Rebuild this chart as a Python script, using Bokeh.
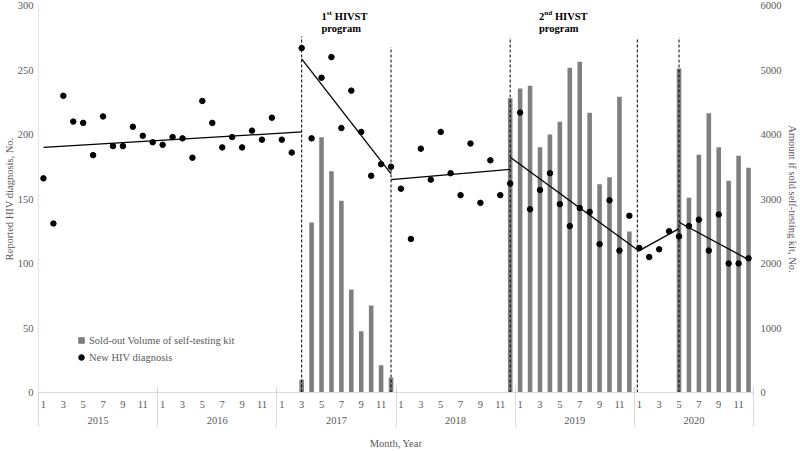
import math
from bokeh.plotting import figure
from bokeh.models import (Range1d, LinearAxis, FixedTicker, Legend, LegendItem, Label)
from bokeh.embed import file_html
from bokeh.resources import INLINE

# ---------------- data ----------------
years = ["2015", "2016", "2017", "2018", "2019", "2020"]
months = [str(m) for m in range(1, 13)]

# New HIV diagnosis per month (left axis), Jan 2015 .. Dec 2020
hiv_diagnoses = [
    166, 131, 230, 210, 209, 184, 214, 191, 191, 206, 199, 194,   # 2015
    192, 198, 197, 182, 226, 209, 190, 198, 190, 203, 196, 213,   # 2016
    196, 186, 267, 197, 244, 260, 205, 234, 202, 168, 177, 175,   # 2017
    158, 119, 189, 165, 202, 170, 153, 193, 147, 180, 153, 162,   # 2018
    217, 142, 157, 170, 146, 129, 143, 140, 115, 149, 110, 137,   # 2019
    112, 105, 111, 125, 121, 129, 134, 110, 138, 100, 100, 104,   # 2020
]

# Sold-out volume of self-testing kits per month (right axis)
kits_sold = [
    0, 0, 0, 0, 0, 0, 0, 0, 0, 0, 0, 0,                                   # 2015
    0, 0, 0, 0, 0, 0, 0, 0, 0, 0, 0, 0,                                   # 2016
    0, 0, 197, 2636, 3958, 3431, 2972, 1597, 951, 1349, 423, 232,         # 2017
    0, 0, 0, 0, 0, 0, 0, 0, 0, 0, 0, 4563,                                # 2018
    4713, 4755, 3803, 4000, 4196, 5033, 5126, 4336, 3230, 3338, 4584, 2496,  # 2019
    0, 0, 0, 0, 5023, 3018, 3685, 4331, 3803, 3282, 3669, 3483,           # 2020
]

# segmented regression trend lines (month index, value)
trend_start_idx = [0, 26, 35, 47, 60, 64]
trend_end_idx = [26, 35, 47, 60, 64, 71]
trend_start_val = [190, 258.6, 165, 182.4, 110, 132]
trend_end_val = [202, 169.5, 173, 109.5, 127, 103]

# program boundaries (month index) and the height of their dashed markers
event_idx = [26, 35, 47, 59.8, 64]
event_top = [276, 267.7, 275.4, 275, 275.4]

month_index = list(range(len(hiv_diagnoses)))

FONT = "Liberation Serif"
GREY = "#595959"
FS = "10.5px"

p = figure(width=800, height=451, output_backend="svg", toolbar_location=None,
           x_range=Range1d(-0.5, 71.5), y_range=Range1d(0, 300),
           min_border_top=5, min_border_left=0, min_border_right=0, min_border_bottom=0)
p.extra_y_ranges = {"kits": Range1d(0, 6000)}
p.outline_line_color = None
p.xgrid.visible = False
p.ygrid.visible = False
p.background_fill_color = "white"

# bars
bar_x = [i for i, v in zip(month_index, kits_sold) if v > 0]
bar_top = [v for v in kits_sold if v > 0]
p.vbar(x=bar_x, top=bar_top, width=0.46, bottom=0, y_range_name="kits",
       fill_color="#7f7f7f", line_color=None)

# dashed program markers
p.segment(x0=event_idx, y0=[0] * len(event_idx), x1=event_idx, y1=event_top,
          line_color="black", line_width=1, line_dash="3 2")

# trend lines
for xs, xe, ys, ye in zip(trend_start_idx, trend_end_idx, trend_start_val, trend_end_val):
    p.line(x=[xs, xe], y=[ys, ye], line_color="black", line_width=1.3)

# dots
dots = p.scatter(x=month_index, y=hiv_diagnoses, size=5.5, color="black", marker="circle")


def no_ticks(ax):
    ax.major_tick_line_color = None
    ax.minor_tick_line_color = None
    ax.major_tick_out = 0
    ax.major_tick_in = 0
    ax.minor_tick_out = 0
    ax.minor_tick_in = 0


def style_labels(ax):
    ax.major_label_text_font = FONT
    ax.major_label_text_font_size = FS
    ax.major_label_text_color = GREY
    ax.axis_label_text_font = FONT
    ax.axis_label_text_font_size = FS
    ax.axis_label_text_font_style = "normal"
    ax.axis_label_text_color = GREY


# ---------------- axes ----------------
# left
yl = p.yaxis[0]
yl.ticker = FixedTicker(ticks=list(range(0, 301, 50)))
no_ticks(yl)
style_labels(yl)
yl.axis_line_color = "#e3e3e3"
yl.major_label_standoff = 5
yl.axis_label = "Reported HIV diagnosis, No."
yl.axis_label_standoff = 0

# right
yr = LinearAxis(y_range_name="kits", ticker=FixedTicker(ticks=list(range(0, 6001, 1000))))
no_ticks(yr)
style_labels(yr)
yr.axis_line_color = None
yr.major_label_standoff = 7
yr.axis_label = "Amount if sold self-testing kit, No."
yr.axis_label_standoff = 2
p.add_layout(yr, "right")

# bottom: month numbers
xm = p.xaxis[0]
odd_ticks = [i for i in month_index if i % 2 == 0]
xm.ticker = FixedTicker(ticks=odd_ticks)
xm.major_label_overrides = {i: months[i % 12] for i in odd_ticks}
no_ticks(xm)
style_labels(xm)
xm.axis_line_color = "#d9d9d9"
xm.major_label_standoff = 8

# bottom: years
year_centers = [12 * k + 5.5 for k in range(len(years))]
xy = LinearAxis(ticker=FixedTicker(ticks=year_centers))
xy.major_label_overrides = {c: y for c, y in zip(year_centers, years)}
no_ticks(xy)
style_labels(xy)
xy.axis_line_color = None
xy.major_label_standoff = 6
p.add_layout(xy, "below")

# bottom: year separators + title
bounds = [12 * k - 0.5 for k in range(len(years) + 1)]
xs_ax = LinearAxis(ticker=FixedTicker(ticks=bounds))
style_labels(xs_ax)
xs_ax.major_label_overrides = {b: "" for b in bounds}
xs_ax.major_label_text_font_size = "1px"
xs_ax.major_label_standoff = 0
xs_ax.major_tick_in = 40
xs_ax.major_tick_out = 0
xs_ax.major_tick_line_color = "#d9d9d9"
xs_ax.minor_tick_line_color = None
xs_ax.minor_tick_out = 0
xs_ax.axis_line_color = None
xs_ax.axis_label = "Month, Year"
xs_ax.axis_label_standoff = 11
p.add_layout(xs_ax, "below")

# ---------------- legend ----------------
legend_square = p.scatter(x=[math.nan], y=[math.nan], marker="square", size=6,
                          color="#7f7f7f")
legend = Legend(items=[
    LegendItem(label="Sold-out Volume of self-testing kit", renderers=[legend_square]),
    LegendItem(label="New HIV diagnosis", renderers=[dots]),
], location=(36, 28), glyph_width=14, glyph_height=14, label_height=14,
    label_standoff=1, spacing=3, padding=0, margin=0,
    border_line_alpha=0, background_fill_alpha=0,
    label_text_font=FONT, label_text_font_size=FS, label_text_color=GREY)
p.add_layout(legend)

# ---------------- annotations ----------------
def program_label(x, num, sup, sup_w):
    bold = dict(text_font=FONT, text_font_style="bold", text_color="black",
                text_baseline="middle", text_align="left")
    p.add_layout(Label(x=x, y=291.5, text=num, text_font_size="10.5px", **bold))
    p.add_layout(Label(x=x, y=291.5, text=sup, text_font_size="7px",
                       x_offset=5.3, y_offset=3, **bold))
    p.add_layout(Label(x=x, y=291.5, text="HIVST", text_font_size="10.5px",
                       x_offset=5.3 + sup_w + 2.8, **bold))
    p.add_layout(Label(x=x, y=282.2, text="program", text_font_size="10.5px", **bold))

program_label(28.0, "1", "st", 5.1)
program_label(49.9, "2", "nd", 7.8)

open("out.html", "w").write(file_html(p, INLINE))
